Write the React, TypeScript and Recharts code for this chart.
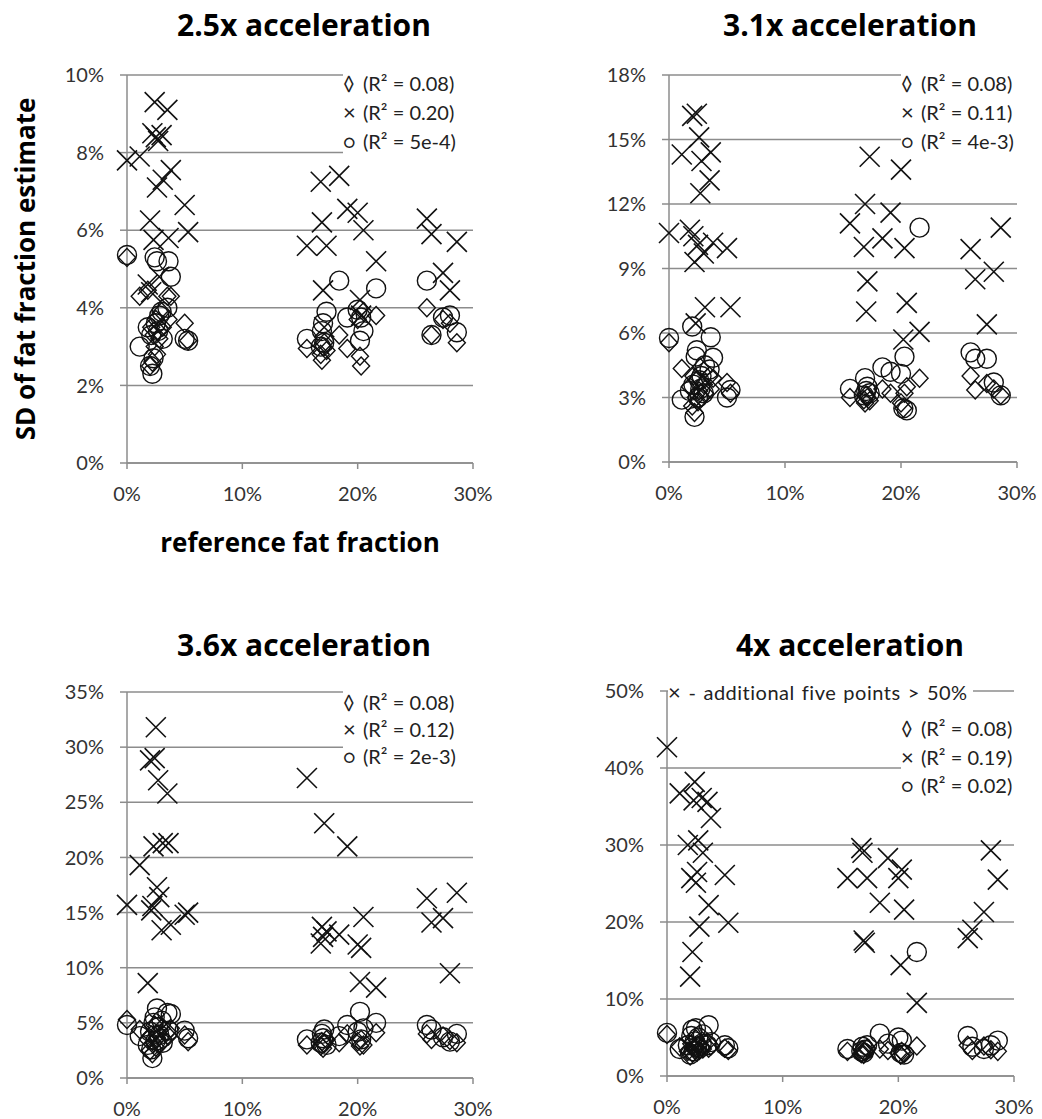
import { CartesianGrid, Scatter, ScatterChart, XAxis, YAxis } from "recharts";

// reference fat fraction (%) shared by every series
const xRef = [
  0, 1.1, 1.8, 2.0, 2.1, 2.2, 2.3, 2.4, 2.5, 2.6, 2.7, 2.8, 3.0, 3.1, 3.5, 3.6, 3.8, 5.0, 5.3,
  15.6, 16.8, 16.9, 17.0, 17.1, 17.3, 18.4, 19.1, 20.0, 20.2, 20.3, 20.5, 21.6,
  26.0, 26.4, 27.4, 28.0, 28.6,
];
const xTicks = [0, 10, 20, 30];

// 2.5x
const p1Diamond = [
  5.3, 4.3, 4.45, 2.5, 3.5, 2.6, 3.3, 3.0, 3.7, 2.8, 3.4, 3.2, 3.9, 3.5, 4.3, 3.7, 4.3, 3.6, 3.15,
  2.95, 2.8, 2.65, 3.0, 3.1, 2.9, 3.3, 2.95, 3.7, 2.75, 2.5, 3.9, 3.8,
  4.0, 3.3, 3.7, 3.6, 3.1,
];
const p1Cross = [
  7.8, 7.9, 4.6, 6.25, 4.4, 8.5, 5.75, 9.3, 8.4, 7.1, 8.3, 4.8, 8.45, 7.3, 9.1, 5.8, 7.55, 6.65, 5.95,
  5.6, 7.25, 6.2, 4.45, 3.5, 5.6, 7.4, 6.55, 6.45, 4.2, 3.8, 6.0, 5.2,
  6.3, 5.9, 4.9, 4.45, 5.7,
];
const p1Circle = [
  5.36, 3.0, 3.5, 2.5, 3.3, 2.3, 2.7, 5.3, 3.6, 5.2, 3.4, 3.8, 3.9, 3.2, 4.0, 5.2, 4.8, 3.2, 3.15,
  3.2, 3.0, 3.4, 3.6, 3.1, 3.9, 4.7, 3.75, 3.95, 3.15, 3.75, 3.4, 4.5,
  4.7, 3.3, 3.75, 3.8, 3.37,
];

// 3.1x
const p2Diamond = [
  5.55, 4.35, 3.5, 2.6, 4.0, 2.3, 3.0, 3.8, 2.8, 3.3, 4.4, 3.0, 3.6, 3.2, 4.0, 3.4, 3.9, 3.7, 3.2,
  3.0, 2.9, 2.75, 3.1, 3.0, 2.85, 3.4, 3.2, 2.75, 2.5, 3.2, 3.5, 3.9,
  4.0, 3.35, 3.65, 3.4, 3.1,
];
const p2Cross = [
  10.65, 14.3, 10.8, 16.1, 10.5, 9.3, 6.45, 16.2, 10.1, 15.1, 12.5, 14.0, 9.7, 7.2, 13.1, 14.4, 10.2, 9.95, 7.2,
  11.1, 10.0, 12.0, 7.0, 8.4, 14.2, 10.4, 11.6, 13.6, 5.7, 9.95, 7.4, 6.05,
  9.9, 8.5, 6.4, 8.85, 10.9,
];
const p2Circle = [
  5.77, 2.9, 3.3, 6.3, 3.6, 2.1, 4.9, 5.2, 3.0, 3.8, 3.4, 4.0, 3.2, 4.5, 4.3, 5.8, 4.85, 3.0, 3.35,
  3.4, 3.1, 3.9, 3.3, 3.5, 3.2, 4.4, 4.2, 4.1, 2.5, 4.9, 2.4, 10.9,
  5.1, 4.8, 4.8, 3.7, 3.1,
];

// 3.6x
const p3Diamond = [
  5.3, 4.4, 3.5, 2.5, 3.9, 2.2, 3.2, 4.8, 2.8, 3.6, 4.0, 3.0, 4.5, 3.4, 4.2, 3.8, 4.5, 3.9, 3.3,
  3.0, 2.9, 3.3, 2.7, 3.1, 3.5, 3.2, 4.0, 3.3, 2.9, 3.5, 3.0, 4.1,
  4.0, 3.5, 3.8, 3.4, 3.2,
];
const p3Cross = [
  15.7, 19.3, 8.6, 28.8, 15.2, 15.6, 21.0, 29.0, 31.8, 17.3, 27.0, 16.4, 13.4, 21.3, 25.8, 21.3, 13.9, 14.8, 15.0,
  27.2, 12.2, 13.7, 12.8, 23.1, 13.3, 13.0, 21.0, 12.1, 8.7, 11.8, 14.6, 8.2,
  16.3, 14.1, 14.5, 9.5, 16.8,
];
const p3Circle = [
  4.8, 3.8, 3.0, 4.2, 2.6, 1.8, 5.0, 5.5, 3.4, 6.3, 4.6, 3.9, 5.2, 3.2, 5.9, 4.3, 5.8, 4.3, 3.6,
  3.5, 3.2, 4.0, 3.6, 4.4, 3.0, 3.8, 4.8, 4.2, 6.0, 3.5, 4.5, 5.0,
  4.8, 4.4, 3.7, 3.3, 4.0,
];

// 4x
const p4Diamond = [
  5.4, 3.8, 3.2, 2.6, 4.2, 3.0, 3.6, 3.4, 4.8, 3.1, 4.0, 3.3, 3.8, 3.5, 4.4, 3.6, 3.9, 3.6, 3.3,
  3.2, 2.9, 3.4, 2.8, 3.1, 3.6, 3.5, 3.3, 3.0, 2.7, 3.2, 2.9, 3.9,
  4.0, 3.3, 3.9, 3.4, 3.2,
];
const p4Cross = [
  42.7, 36.7, 30.0, 12.9, 25.7, 16.1, 35.8, 38.2, 25.1, 26.5, 30.6, 19.4, 36.1, 29.0, 35.6, 22.2, 33.5, 26.1, 19.9,
  25.7, 29.6, 29.0, 17.6, 17.3, 25.7, 22.5, 28.3, 25.7, 14.4, 26.8, 21.6, 9.5,
  17.9, 19.0, 21.3, 29.3, 25.5,
];
const p4Circle = [
  5.6, 3.5, 4.0, 2.8, 5.2, 6.0, 3.2, 4.5, 6.2, 3.8, 5.0, 3.6, 4.2, 5.4, 4.0, 6.6, 4.4, 4.0, 3.6,
  3.5, 3.2, 3.8, 3.0, 3.4, 4.0, 5.5, 4.2, 5.0, 3.0, 4.6, 2.8, 16.1,
  5.2, 3.8, 3.5, 4.0, 4.6,
];

const GRID = "#8c8c8c";
const INK = "#111";
const FONT = "Lato, 'Open Sans', sans-serif";
const BOLD = "'Open Sans', Lato, sans-serif";

const toPoints = (ys: number[]) => xRef.map((x, i) => ({ x, y: ys[i] }));
const pct = (v: number) => `${v}%`;

function DiamondMark(props: any) {
  const { cx, cy } = props;
  if (cx == null || cy == null) return null;
  return (
    <path
      d={`M${cx},${cy - 9}L${cx + 8.5},${cy}L${cx},${cy + 9}L${cx - 8.5},${cy}Z`}
      fill="none"
      stroke={INK}
      strokeWidth={1.4}
    />
  );
}

function CrossMark(props: any) {
  const { cx, cy } = props;
  if (cx == null || cy == null) return null;
  return (
    <path
      d={`M${cx - 10},${cy - 10}L${cx + 10},${cy + 10}M${cx + 10},${cy - 10}L${cx - 10},${cy + 10}`}
      fill="none"
      stroke={INK}
      strokeWidth={1.6}
    />
  );
}

function CircleMark(props: any) {
  const { cx, cy } = props;
  if (cx == null || cy == null) return null;
  return <circle cx={cx} cy={cy} r={9.5} fill="none" stroke={INK} strokeWidth={1.4} />;
}

type PanelProps = {
  title: string;
  left: number;
  top: number;
  width: number;
  height: number;
  mTop: number;
  mRight: number;
  yWidth: number;
  xHeight: number;
  yMax: number;
  yTicks: number[];
  diamond: number[];
  cross: number[];
  circle: number[];
  r2: string[];
  titleX: number;
  titleY: number;
  legendX: number;
  legendY: number;
  rowH: number;
  note?: { x: number; y: number; w: number };
  yLabel?: string;
  xLabel?: string;
};

const symbols = ["◊", "×", "○"];
const symbolSize = [20, 22, 19];

function Panel(p: PanelProps) {
  const plotMid = p.mTop + (p.height - p.mTop - p.xHeight) / 2;
  return (
    <div style={{ position: "absolute", left: p.left, top: p.top, width: p.width, height: p.height }}>
      <ScatterChart
        width={p.width}
        height={p.height}
        margin={{ top: p.mTop, right: p.mRight, left: 0, bottom: 0 }}
      >
        <CartesianGrid vertical={false} stroke={GRID} strokeWidth={1.5} />
        <XAxis
          type="number"
          dataKey="x"
          domain={[0, 30]}
          ticks={xTicks}
          tickFormatter={pct}
          height={p.xHeight}
          tickSize={6}
          tickMargin={18}
          axisLine={{ stroke: GRID, strokeWidth: 1.5 }}
          tickLine={{ stroke: GRID, strokeWidth: 1.5 }}
          tick={{ fill: "#333", fontSize: 20, fontFamily: FONT }}
          label={
            p.xLabel
              ? {
                  value: p.xLabel,
                  position: "insideBottom",
                  offset: 18,
                  style: { fill: "#000", fontSize: 26, fontWeight: 700, fontFamily: BOLD },
                }
              : undefined
          }
        />
        <YAxis
          type="number"
          dataKey="y"
          domain={[0, p.yMax]}
          ticks={p.yTicks}
          tickFormatter={pct}
          width={p.yWidth}
          tickSize={7}
          tickMargin={16}
          axisLine={{ stroke: GRID, strokeWidth: 1.5 }}
          tickLine={{ stroke: GRID, strokeWidth: 1.5 }}
          tick={{ fill: "#333", fontSize: 20, fontFamily: FONT }}
          label={
            p.yLabel
              ? () => (
                  <text
                    x={25}
                    y={plotMid}
                    transform={`rotate(-90 25 ${plotMid})`}
                    textAnchor="middle"
                    dominantBaseline="central"
                    fill="#000"
                    fontSize={26}
                    fontWeight={700}
                    fontFamily={BOLD}
                  >
                    {p.yLabel}
                  </text>
                )
              : undefined
          }
        />
        <Scatter data={toPoints(p.diamond)} shape={DiamondMark} isAnimationActive={false} />
        <Scatter data={toPoints(p.cross)} shape={CrossMark} isAnimationActive={false} />
        <Scatter data={toPoints(p.circle)} shape={CircleMark} isAnimationActive={false} />
      </ScatterChart>

      <div
        style={{
          position: "absolute",
          left: p.titleX - p.left - 200,
          top: p.titleY - p.top - 20,
          width: 400,
          lineHeight: "40px",
          textAlign: "center",
          fontFamily: BOLD,
          fontWeight: 700,
          fontSize: 30,
          color: "#000",
        }}
      >
        {p.title}
      </div>

      {p.note && (
        <div
          style={{
            position: "absolute",
            left: p.note.x - p.left,
            top: p.note.y - p.top - 13,
            width: p.note.w,
            height: 26,
            lineHeight: "26px",
            background: "#fff",
            fontFamily: FONT,
            fontSize: 20,
            letterSpacing: 0.5,
            wordSpacing: 1.5,
            color: "#222",
            whiteSpace: "nowrap",
          }}
        >
          <span style={{ fontSize: 22, lineHeight: 1 }}>×</span> - additional five points &gt; 50%
        </div>
      )}

      <div
        style={{
          position: "absolute",
          left: p.legendX - p.left,
          top: p.legendY - p.top,
          width: 138,
          background: "#fff",
          fontFamily: FONT,
          fontSize: 20,
          color: "#222",
          whiteSpace: "nowrap",
        }}
      >
        {p.r2.map((r, i) => (
          <div key={r + i} style={{ height: p.rowH, lineHeight: `${p.rowH}px` }}>
            <span
              style={{
                display: "inline-block",
                width: 20,
                fontSize: symbolSize[i],
                lineHeight: 1,
                textAlign: "left",
              }}
            >
              {symbols[i]}
            </span>
            (R² = {r})
          </div>
        ))}
      </div>
    </div>
  );
}

export default function App() {
  return (
    <div
      style={{
        position: "absolute",
        left: 0,
        top: 0,
        width: 1042,
        height: 1119,
        background: "#fff",
        overflow: "hidden",
        fontVariantLigatures: "none",
      }}
    >
      <Panel
        title="2.5x acceleration"
        left={0}
        top={0}
        width={520}
        height={570}
        mTop={75}
        mRight={47}
        yWidth={127}
        xHeight={107}
        yMax={10}
        yTicks={[0, 2, 4, 6, 8, 10]}
        diamond={p1Diamond}
        cross={p1Cross}
        circle={p1Circle}
        r2={["0.08", "0.20", "5e-4"]}
        titleX={304}
        titleY={25}
        legendX={343}
        legendY={69}
        rowH={29}
        yLabel="SD of fat fraction estimate"
        xLabel="reference fat fraction"
      />
      <Panel
        title="3.1x acceleration"
        left={520}
        top={0}
        width={522}
        height={570}
        mTop={75}
        mRight={25}
        yWidth={149}
        xHeight={108}
        yMax={18}
        yTicks={[0, 3, 6, 9, 12, 15, 18]}
        diamond={p2Diamond}
        cross={p2Cross}
        circle={p2Circle}
        r2={["0.08", "0.11", "4e-3"]}
        titleX={850}
        titleY={25}
        legendX={901}
        legendY={69}
        rowH={29}
      />
      <Panel
        title="3.6x acceleration"
        left={0}
        top={570}
        width={520}
        height={549}
        mTop={122}
        mRight={47}
        yWidth={127}
        xHeight={41}
        yMax={35}
        yTicks={[0, 5, 10, 15, 20, 25, 30, 35]}
        diamond={p3Diamond}
        cross={p3Cross}
        circle={p3Circle}
        r2={["0.08", "0.12", "2e-3"]}
        titleX={304}
        titleY={645}
        legendX={343}
        legendY={689}
        rowH={27}
      />
      <Panel
        title="4x acceleration"
        left={520}
        top={570}
        width={522}
        height={549}
        mTop={121}
        mRight={28}
        yWidth={147}
        xHeight={43}
        yMax={50}
        yTicks={[0, 10, 20, 30, 40, 50]}
        diamond={p4Diamond}
        cross={p4Cross}
        circle={p4Circle}
        r2={["0.08", "0.19", "0.02"]}
        titleX={850}
        titleY={645}
        legendX={901}
        legendY={714}
        rowH={28.5}
        note={{ x: 668, y: 692, w: 305 }}
      />
    </div>
  );
}
